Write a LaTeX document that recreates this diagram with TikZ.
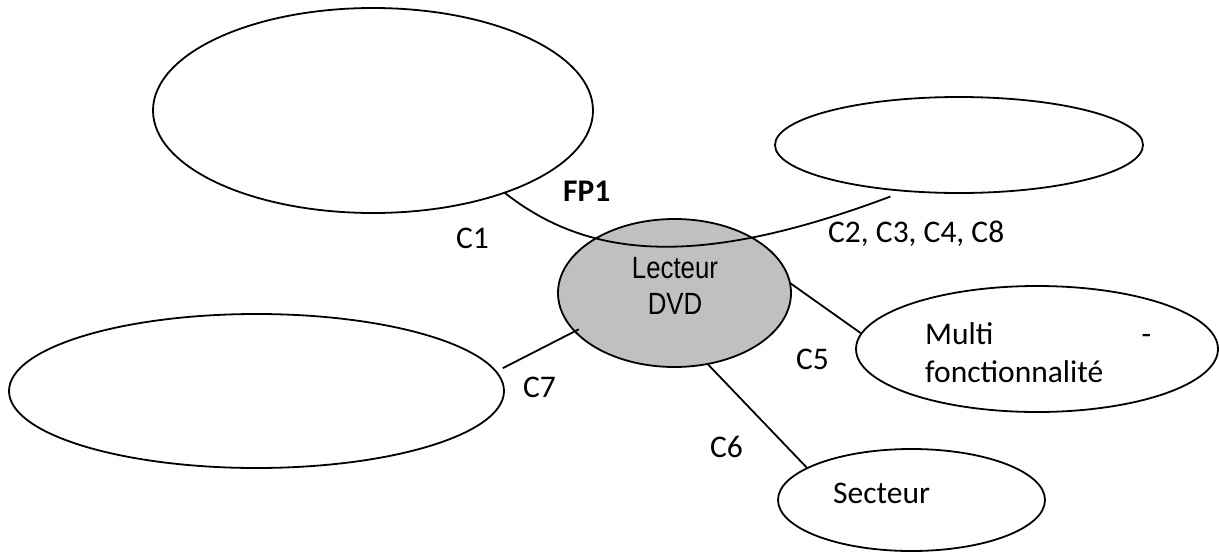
\documentclass[tikz,border=0pt]{standalone}
\usepackage{fontspec}
\setmainfont{Carlito}
\newfontfamily\arialn[FakeStretch=0.84]{Liberation Sans}
\usetikzlibrary{shapes.geometric}
\definecolor{prodgray}{HTML}{C0C0C0}
\begin{document}
\begin{tikzpicture}[x=1pt,y=-1pt,
  bubble/.style={draw=black, line width=1.8pt, ellipse, inner sep=0pt, outer sep=0pt},
  lbl/.style={inner sep=0pt, anchor=base west, font=\fontsize{31.5}{38}\selectfont},
  prodtext/.style={inner sep=0pt, anchor=base, font=\arialn\fontsize{30.7}{36}\selectfont},
  link/.style={draw=black, line width=1.8pt}]
\useasboundingbox (0,0) rectangle (1219,552);
% bubbles
\node[bubble, minimum width=440pt, minimum height=205pt] (tl) at (373,110.5) {};
\node[bubble, minimum width=368pt, minimum height=96pt] (tr) at (959,145) {};
\node[bubble, fill=prodgray, minimum width=233pt, minimum height=148pt] (c) at (674.5,293) {};
\node[bubble, minimum width=495pt, minimum height=154pt] (l) at (256.5,391) {};
\node[bubble, minimum width=362pt, minimum height=126pt] (m) at (1037,349) {};
\node[bubble, minimum width=267pt, minimum height=102pt] (s) at (911.5,500) {};
% connectors
\draw[link] (tl.-32) .. controls (590,260) and (700,268) .. ([yshift=-7pt]tr.213);
\draw[link] (c.5) -- (m.175);
\draw[link] ([shift={(4pt,2pt)}]c.201) -- ([shift={(8pt,2pt)}]l.5);
\draw[link] (c.-65) -- (s.163);
% texts
\node[prodtext] (t1) at (675,278) {Lecteur};
\node[prodtext] (t2) at (675,314) {DVD};
\node[lbl] (fp1) at (563,201) {\textbf{FP1}};
\node[lbl] (c1) at (456,248) {C1};
\node[lbl] (c2) at (828,242) {C2, C3, C4, C8};
\node[lbl] (c5) at (796,369) {C5};
\node[lbl] (c7) at (523,397) {C7};
\node[lbl] (c6) at (710,457) {C6};
\node[lbl] (mt1) at (925,344) {\makebox[226pt][l]{Multi\hfill-}};
\node[lbl] (mt2) at (925,382) {fonctionnalité};
\node[lbl] (st) at (833,503) {Secteur};
\end{tikzpicture}
\end{document}
